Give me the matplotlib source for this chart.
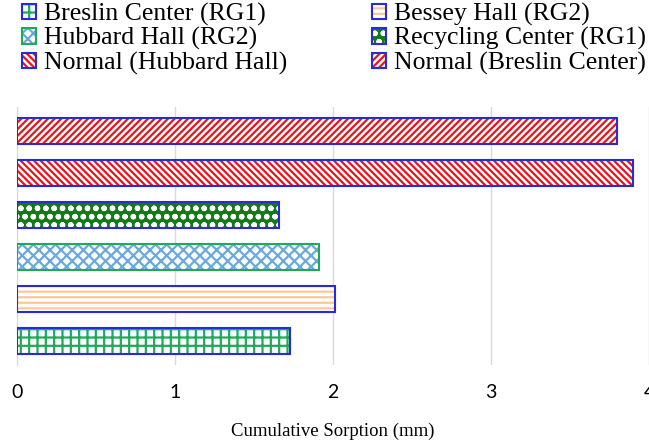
import matplotlib
matplotlib.use("Agg")
import matplotlib.pyplot as plt
from matplotlib.legend_handler import HandlerTuple

# bottom to top
sites = [
    "Breslin Center (RG1)",
    "Bessey Hall (RG2)",
    "Hubbard Hall (RG2)",
    "Recycling Center (RG1)",
    "Normal (Hubbard Hall)",
    "Normal (Breslin Center)",
]
sorption = [1.73, 2.01, 1.91, 1.66, 3.90, 3.80]
xticks = [0, 1, 2, 3, 4]

# hatch, hatch colour, face colour, edge colour
styles = [
    ("++", "#1faa5a", "white", "#2a2ad8"),
    ("---", "#fcc898", "white", "#2a2ad8"),
    ("xxx", "#6aa8e0", "white", "#1faa5a"),
    ("oo", "white", "#137a18", "#2a2ad8"),
    ("\\\\\\\\\\", "#e8141c", "white", "#2a2ad8"),
    ("/////", "#e8141c", "white", "#2a2ad8"),
]

plt.rcParams["hatch.linewidth"] = 1.6

fig = plt.figure(figsize=(6.49, 4.48), dpi=100)
ax = fig.add_axes([17 / 649, 1 - 365 / 448, 632 / 649, 258 / 448])

handles = {}
for i, (name, val) in enumerate(zip(sites, sorption)):
    hatch, hcol, fcol, ecol = styles[i]
    # hatch layer, then the outline in its own colour on top
    b1 = ax.barh(i, val, height=0.62, color=fcol, edgecolor=hcol,
                 hatch=hatch, linewidth=0, zorder=2)
    b2 = ax.barh(i, val, height=0.62, fill=False, edgecolor=ecol,
                 linewidth=1.5, zorder=3)
    handles[name] = (b1[0], b2[0])

ax.set_xlim(0, 4)
ax.set_ylim(-0.57, 5.56)
ax.set_xticks(xticks)
ax.set_xticklabels([str(t) for t in xticks], family="Lato", fontsize=14)
ax.set_yticks([])
ax.tick_params(axis="x", length=0, pad=14)
ax.xaxis.grid(True, color="#d9d9d9", linewidth=1, zorder=0)
for s in ["top", "right", "bottom"]:
    ax.spines[s].set_visible(False)
ax.spines["left"].set_color("#d9d9d9")
ax.set_xlabel("Cumulative Sorption (mm)", family="Liberation Serif",
              fontsize=13.5, labelpad=15)

order = [sites[0], sites[2], sites[4], sites[1], sites[3], sites[5]]
fig.legend([handles[n] for n in order], order,
           handler_map={tuple: HandlerTuple(ndivide=1)},
           loc="upper left", bbox_to_anchor=(22 / 649, 1 - 3 / 448),
           ncol=2, frameon=False, borderpad=0, borderaxespad=0,
           prop={"family": "Liberation Serif", "size": 18.5},
           handlelength=0.55, handleheight=0.55, handletextpad=0.3,
           columnspacing=3.3, labelspacing=0.05)

fig.savefig("out.png", dpi=100)
